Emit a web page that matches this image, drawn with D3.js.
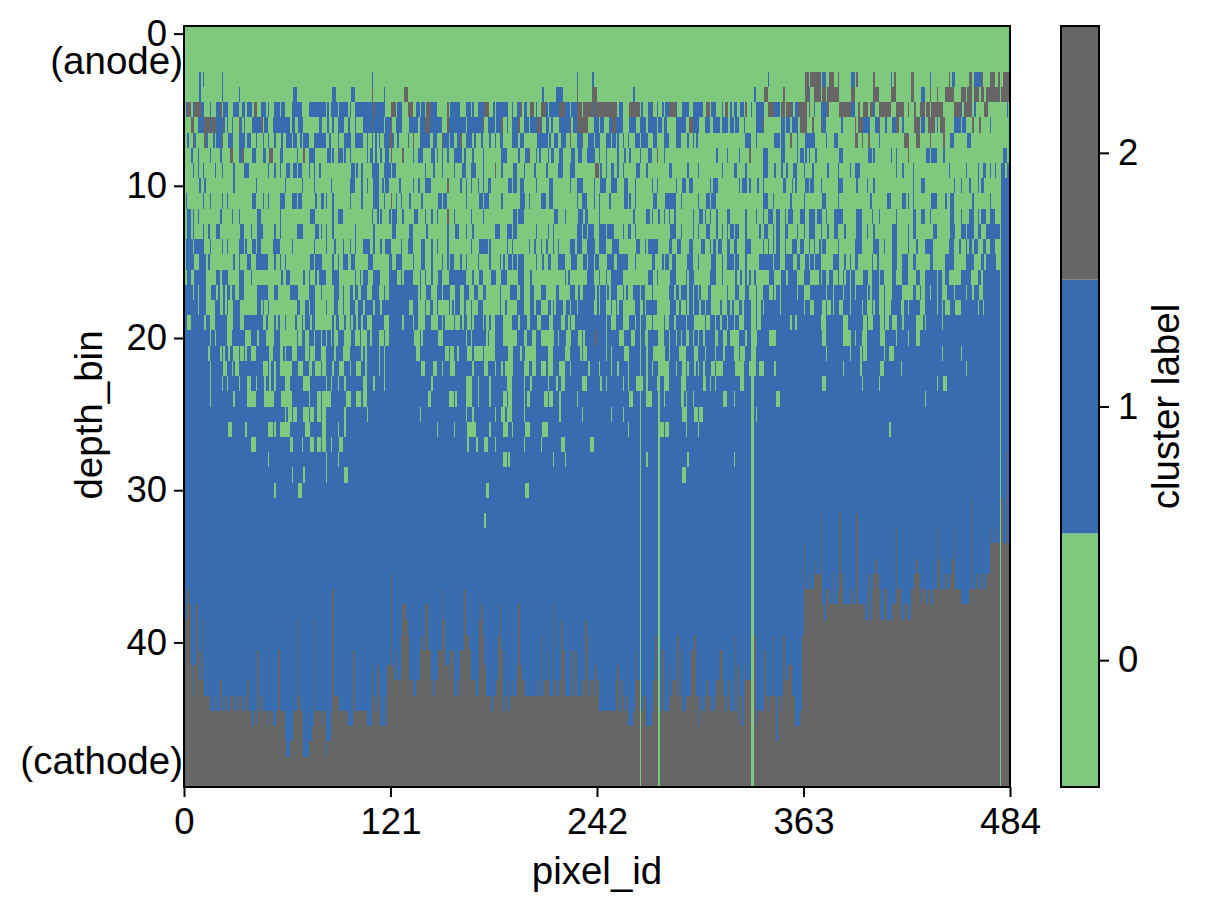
<!DOCTYPE html>
<html>
<head>
<meta charset="utf-8">
<style>
    html, body { margin: 0; padding: 0; background: #fff; }
    svg text { font-family: "Liberation Sans", Arial, sans-serif; fill: #000; }
</style>
<script src="https://cdn.jsdelivr.net/npm/d3@7/dist/d3.min.js"></script>
</head>
<body>
<div id="chart"></div>
<script>
(function () {
    'use strict';

    var clusterLabels = [0, 1, 2],
        xTicks = [0, 121, 242, 363, 484],
        yTicks = [0, 10, 20, 30, 40],
        endLabels = [[2, "(anode)"], [48, "(cathode)"]],
        numCols = 484,
        numRows = 50;

    //start,end column pairs
    var blueRuns = [];
    blueRuns[3] = [9,10,11,12,22,23,110,111,230,231,239,240,342,343,374,376,391,393,414,415,437,438,450,452,463,467];
    blueRuns[4] = [9,10,22,23,32,33,64,66,87,89,98,100,117,118,210,211,218,220,220,222,263,264,334,335,366,367,432,434];
    blueRuns[5] = [1,2,5,6,10,12,15,16,19,21,23,26,29,32,34,36,37,40,45,48,49,50,53,56,57,59,63,69,73,77,77,83,84,85,86,90,91,96,97,98,100,111,112,118,125,128,136,138,139,141,145,148,156,162,165,168,169,170,172,176,181,182,183,190,192,193,195,197,199,201,206,207,212,213,214,220,223,226,227,230,240,241,255,257,268,269,272,274,277,278,280,281,282,284,288,289,292,296,298,304,309,312,315,316,320,321,322,324,326,328,332,333,335,340,346,349,356,357,358,360,369,370,373,377,391,393,404,405,455,456,463,464,482,483];
    blueRuns[6] = [8,12,15,16,19,22,23,24,25,26,28,29,33,34,35,36,40,45,47,49,52,62,63,65,67,70,79,81,84,85,87,88,90,94,96,97,100,101,105,117,118,121,124,128,132,137,138,141,144,151,155,165,166,175,178,182,183,186,189,190,192,196,199,202,203,207,209,210,212,214,215,216,220,226,228,230,240,243,244,246,249,251,253,257,261,265,267,271,272,277,278,280,281,283,288,294,298,302,305,308,310,314,315,319,320,322,323,325,328,329,335,339,350,352,353,355,356,360,374,376,385,386,398,402,405,407,411,412,415,417,421,422,432,434,441,442,451,455,456,458,472,473];
    blueRuns[7] = [2,3,5,7,12,14,17,18,19,22,26,29,32,36,37,39,42,43,46,47,49,50,53,54,57,58,60,63,64,66,68,69,70,73,76,83,85,86,90,91,94,98,100,105,107,108,110,111,112,113,114,115,117,120,122,123,125,126,131,132,138,144,146,148,152,155,156,158,160,162,165,169,170,171,174,175,179,180,182,183,185,187,192,196,197,199,207,213,214,215,217,219,221,224,230,233,237,240,241,244,247,250,251,253,254,255,257,258,260,261,264,267,268,272,275,277,281,284,288,291,295,296,298,299,300,301,329,332,335,336,346,349,350,352,359,360,364,370,376,377,381,383,407,408,449,451,459,461];
    blueRuns[8] = [4,5,8,9,15,16,21,22,32,35,40,42,46,48,56,58,66,67,73,77,84,86,87,88,91,93,94,95,97,98,107,108,109,111,112,113,115,116,118,120,134,135,137,140,145,147,148,149,151,152,154,155,158,163,164,165,169,170,175,176,186,189,196,197,200,202,206,207,208,209,213,214,215,217,220,222,227,229,231,233,236,241,243,244,247,248,254,255,258,259,261,262,267,268,272,274,281,282,312,313,318,319,325,326,339,342,350,352,359,360,361,363,364,365,366,367,370,371,384,386,401,403,404,405,414,415,417,418,435,437,438,441,445,446,480,482];
    blueRuns[9] = [5,6,8,9,11,12,18,19,22,23,29,30,35,38,49,50,53,54,56,57,60,62,64,66,67,69,73,74,76,77,79,80,98,100,101,102,104,105,110,114,117,121,122,124,141,142,146,147,151,152,158,159,163,165,168,171,175,176,186,187,193,195,199,200,205,206,212,213,219,222,226,227,227,229,244,245,247,248,250,252,254,255,257,258,265,267,271,272,284,286,295,296,301,302,315,316,322,324,329,330,339,342,346,347,350,351,353,354,357,359,363,364,368,369,377,378,383,384,390,391,393,396,417,418,421,422,427,428,448,449,458,459,465,466,468,470,472,473,475,476,479,481,482,484];
    blueRuns[10] = [9,10,12,13,29,30,42,43,59,60,69,70,76,77,86,87,97,100,104,105,107,108,111,114,116,117,118,120,126,127,134,135,137,138,141,145,162,163,165,166,168,169,172,173,175,176,178,180,190,192,193,195,197,199,206,207,214,216,226,227,230,234,240,241,244,247,250,254,258,260,264,265,274,275,277,278,288,289,292,294,296,298,308,309,310,313,325,326,327,330,331,332,336,337,339,340,351,353,356,357,358,359,364,366,367,369,373,374,383,386,394,395,400,401,404,405,427,428,432,434,451,452,455,456,460,461,465,466,467,469,479,484];
    blueRuns[11] = [1,2,11,12,15,16,22,23,25,26,40,42,46,47,49,50,56,59,63,66,67,69,77,78,80,82,83,84,87,88,97,98,104,105,111,114,117,118,124,125,127,128,132,133,139,140,149,151,152,154,165,166,173,175,176,179,186,187,197,200,202,203,209,212,214,216,230,231,233,236,240,241,243,244,249,250,258,260,261,262,264,265,275,277,282,288,291,292,301,302,306,308,309,312,339,342,345,346,355,356,363,364,374,376,383,384,402,403,412,414,421,423,424,425,427,428,438,441,446,447,449,451,462,463,472,473,479,484];
    blueRuns[12] = [2,4,5,6,8,9,21,22,28,29,32,33,43,45,56,57,74,77,87,88,90,93,110,111,113,114,115,116,120,121,122,125,128,129,135,137,141,142,145,146,148,149,158,159,168,169,175,176,193,195,196,199,217,219,223,224,231,234,235,237,243,244,263,264,271,273,274,275,278,279,281,282,284,285,287,288,298,299,302,304,305,306,308,309,312,313,318,320,329,330,335,336,339,340,342,345,347,349,352,353,354,357,361,364,366,370,371,374,376,377,381,386,394,397,403,404,407,408,417,418,427,429,432,434,437,438,449,451,455,456,460,463,465,466,467,470,472,475,479,484];
    blueRuns[13] = [2,4,5,6,11,12,14,15,19,21,33,35,39,40,43,46,53,54,56,57,66,70,77,79,80,81,83,84,87,88,100,101,111,112,122,124,132,134,142,143,154,155,159,161,165,166,169,170,182,185,189,192,193,195,206,207,213,214,216,217,230,233,234,236,237,240,243,247,248,252,257,258,260,262,264,265,285,288,291,292,298,299,301,302,306,308,312,313,315,316,318,319,320,322,323,325,329,330,337,338,340,342,345,346,347,349,352,354,359,360,363,364,366,370,373,374,377,378,381,383,387,388,394,397,400,401,404,405,415,418,424,425,427,429,439,441,449,452,455,458,459,463,465,467,470,478,479,484];
    blueRuns[14] = [1,5,6,12,15,16,22,23,25,26,32,35,36,37,40,42,43,45,52,56,63,64,76,77,83,84,88,89,93,94,97,98,100,101,105,109,111,112,115,116,118,121,127,128,131,134,139,141,145,146,148,149,154,155,168,169,173,178,179,180,189,190,192,193,202,203,205,206,209,210,212,213,216,217,219,220,226,229,230,233,236,241,243,247,251,255,265,267,270,271,272,278,284,286,289,291,296,298,303,305,308,309,310,312,313,315,318,320,322,324,329,332,339,340,342,343,345,346,347,349,352,353,356,359,361,363,366,367,369,370,372,373,374,376,383,384,393,397,404,407,410,411,415,418,424,425,429,430,434,439,448,451,454,455,458,459,460,462,463,465,468,470,472,475,479,484];
    blueRuns[15] = [1,6,9,13,14,15,29,30,32,33,37,39,42,49,53,54,56,57,59,60,74,76,77,81,87,88,90,91,93,96,98,100,108,111,120,122,124,128,134,135,139,141,145,146,151,152,154,155,156,158,162,163,165,166,172,173,179,180,185,186,187,188,190,192,193,195,196,199,206,207,210,211,213,215,219,223,227,230,234,236,237,240,241,243,248,252,254,260,264,265,274,276,280,281,282,284,286,288,295,298,301,302,309,312,315,316,318,322,323,325,329,330,337,345,346,347,347,349,352,357,359,361,364,366,367,369,370,373,380,384,387,388,390,391,393,395,403,404,406,407,415,418,421,424,427,429,437,439,446,451,458,463,467,469,470,476,479,484];
    blueRuns[16] = [2,4,6,13,19,21,22,26,32,35,39,40,57,58,60,62,70,71,73,74,77,78,79,83,87,91,100,101,103,104,105,108,111,115,120,125,127,128,129,134,138,139,141,142,145,146,149,151,155,165,169,170,173,175,180,183,186,189,196,199,203,204,223,224,225,226,236,240,243,244,247,248,250,251,251,257,272,275,277,278,285,288,294,295,296,299,308,312,315,316,323,324,326,327,329,330,331,332,334,335,343,346,350,353,354,359,363,367,372,373,374,376,378,380,383,384,386,387,388,390,391,393,398,401,403,407,408,410,415,417,421,424,429,431,434,441,442,444,446,448,455,461,465,467,468,478,479,484];

    var grayRuns = [];
    grayRuns[3] = [364,366,367,373,378,381,383,384,394,395,404,405,416,417,426,428,448,449,460,462,467,468,472,475,477,478,480,484];
    grayRuns[4] = [110,111,129,131,230,231,239,242,340,342,351,352,364,366,369,373,374,376,377,384,391,393,404,407,414,417,426,428,437,438,441,442,446,451,455,458,459,462,463,466,467,469,470,478,479,484];
    grayRuns[5] = [2,4,6,10,21,22,41,43,111,112,121,122,122,124,131,134,142,145,154,155,176,179,197,198,203,205,209,212,220,223,230,233,234,240,241,254,261,267,274,275,284,288,306,308,317,319,329,330,342,346,350,352,353,356,360,365,366,367,377,378,384,391,395,396,398,401,402,404,407,414,417,422,424,425,428,429,431,434,435,437,438,445,451,455,457,462,469,471];
    grayRuns[6] = [4,5,5,6,12,15,16,19,22,23,32,33,45,46,110,111,121,122,141,144,154,155,175,176,186,187,196,197,207,209,226,227,230,237,251,253,296,298,339,340,361,365,368,369,373,374,393,394,395,398,407,408,417,419,428,431,436,440,443,446,462,463,466,467];
    grayRuns[7] = [5,6,12,13,22,23,120,122,134,135,151,152,162,163,226,227,233,234,355,356,393,395,397,398,401,402,422,425,429,431,437,438,445,446];
    grayRuns[8] = [27,29,34,35,50,52,70,71,90,91,121,122,128,129,202,203,277,278,331,332,424,425];
    grayRuns[9] = [182,183,241,243];
    grayRuns[10] = [154,155];
    grayRuns[11] = [121,122];
    grayRuns[12] = [154,155];
    grayRuns[20] = [241,242];

    var greenRuns = [];
    greenRuns[17] = [5,6,8,9,13,16,19,20,21,22,22,23,24,25,27,28,30,32,35,43,49,53,55,62,67,73,77,80,81,88,91,93,94,97,99,100,102,104,107,110,114,117,118,120,137,138,139,142,145,148,151,152,156,159,162,164,167,170,172,175,177,185,186,191,195,197,199,203,205,209,212,218,220,226,229,231,232,234,241,242,243,244,247,248,249,250,254,257,258,259,260,263,267,268,270,274,275,284,287,288,290,291,295,296,298,299,301,302,303,307,309,318,319,323,325,329,331,335,336,339,343,345,346,347,349,350,359,360,363,367,376,377,380,381,386,387,390,391,393,394,400,401,402,403,407,410,411,415,421,427,429,431,432,434,437,438,441,442,444,447,451,452,458,459,462,463,466,468];
    greenRuns[18] = [8,9,13,18,21,23,24,25,26,28,28,29,33,36,36,39,39,43,45,46,47,49,50,53,53,60,60,66,68,71,73,74,77,80,80,83,84,88,90,93,94,97,100,102,105,106,111,112,115,116,132,134,137,141,142,144,146,148,149,155,156,157,158,159,162,164,165,168,169,172,175,185,186,188,189,195,199,203,205,206,209,213,215,216,217,218,222,224,226,227,230,231,240,242,243,244,247,250,251,253,254,255,257,264,267,269,270,271,277,284,284,285,288,290,291,294,295,296,298,299,302,303,305,306,309,312,312,314,315,318,320,321,322,325,327,328,332,335,336,338,339,340,349,350,363,364,367,369,374,376,377,379,380,381,384,386,390,391,397,398,400,401,401,403,404,405,407,410,411,414,420,422,424,425,431,434,441,442,444,445,446,449,452,455,465,466,468,469];
    greenRuns[19] = [2,4,12,13,15,18,25,29,33,35,46,48,49,53,54,55,56,59,60,65,66,69,70,71,74,75,77,87,88,89,91,94,95,97,98,99,101,102,104,105,107,110,117,120,128,129,134,135,137,141,145,149,151,152,153,158,159,162,163,164,166,168,169,170,175,176,177,179,180,182,187,192,196,197,201,203,207,209,214,216,221,223,225,226,227,229,247,248,250,253,257,261,264,265,267,268,271,274,275,278,278,281,282,284,287,288,294,295,299,301,301,305,306,308,311,312,314,315,318,319,322,323,325,328,332,335,336,338,355,356,358,359,373,376,386,387,387,389,398,400,401,403,403,404,408,410,411,413,415,417,417,418,421,422,429,431,431,433,434,435,444,445];
    greenRuns[20] = [15,16,18,19,25,28,36,37,37,39,43,44,48,50,50,53,56,66,67,69,71,73,76,77,80,81,83,84,86,87,88,90,94,98,100,103,104,107,109,110,114,115,115,117,118,120,135,138,139,140,149,152,165,166,168,169,177,178,179,182,187,195,199,201,204,206,209,213,213,217,219,220,224,227,231,233,234,235,247,248,255,258,262,264,270,271,271,272,278,281,284,285,288,289,291,292,294,296,298,299,301,302,304,305,311,313,316,318,320,325,329,330,332,336,343,346,346,347,374,376,386,390,390,391,393,394,397,400,408,411,417,418,424,425,429,431];
    greenRuns[21] = [14,15,21,22,23,24,26,27,29,32,33,35,36,37,39,42,50,52,56,58,59,60,63,66,71,73,74,77,80,83,88,89,93,97,104,105,106,107,114,115,117,118,136,138,153,155,156,158,160,161,166,169,170,175,176,182,190,193,197,198,200,206,213,216,223,226,232,233,234,236,247,248,250,251,258,261,271,272,275,282,284,285,290,294,299,301,305,306,311,312,316,317,322,325,326,329,332,335,376,377,390,391,396,397,398,400,410,411,413,414,414,416,444,445,455,456];
    greenRuns[22] = [15,16,23,25,28,29,30,32,46,49,50,51,53,54,56,57,57,63,67,70,73,75,77,80,81,83,87,88,91,94,97,98,101,104,106,107,114,115,117,118,139,141,146,148,151,152,156,159,169,170,176,178,182,183,186,187,188,189,189,193,199,202,204,206,209,212,213,214,214,216,220,223,226,227,237,238,243,244,250,251,254,255,260,261,271,272,274,275,278,284,288,289,292,294,295,296,299,300,301,302,304,305,309,311,312,316,323,325,325,328,331,332,332,335,337,339,339,340,346,347,386,387,396,397,408,410,420,421,458,459];
    greenRuns[23] = [15,16,22,23,25,26,32,33,37,39,42,43,47,48,50,51,53,54,59,62,70,74,83,84,86,87,90,91,94,95,105,107,111,112,117,118,145,146,165,166,166,169,172,173,179,180,189,192,199,200,203,204,213,214,218,219,221,223,233,236,244,245,247,248,257,258,260,261,265,269,271,272,277,278,281,282,282,284,291,292,292,294,304,305,305,306,308,309,311,312,326,328,374,376,397,398,407,408,441,442,445,447];
    greenRuns[24] = [15,16,29,30,37,39,39,42,47,49,49,53,57,60,60,63,73,74,78,80,81,86,95,98,101,104,105,107,143,145,155,158,159,160,165,166,166,169,172,173,179,180,187,189,190,192,199,200,201,203,211,213,214,216,220,221,230,231,261,263,271,272,272,274,281,282,291,293,294,295,298,299,316,318,322,323,347,349,434,435];
    greenRuns[25] = [59,60,61,63,64,66,70,71,71,73,74,76,78,80,81,83,94,95,107,108,138,139,165,166,169,170,182,183,186,188,189,190,190,192,199,200,220,221,233,234,250,251,257,258,292,295,299,301,302,304,335,336];
    greenRuns[26] = [26,28,36,37,49,52,53,54,56,57,57,62,71,74,81,83,90,91,94,95,148,149,158,159,166,169,169,171,179,180,187,190,192,193,200,203,210,213,260,261,279,281,282,284,294,295,301,302,413,414];
    greenRuns[27] = [39,40,40,42,62,63,63,64,69,70,74,76,78,80,81,83,86,87,91,93,166,167,171,172,176,178,182,183,199,200,209,210,221,223,238,240];
    greenRuns[28] = [49,50,83,84,90,91,187,189,190,191,216,217,223,224,271,272,295,296,322,323];
    greenRuns[29] = [63,64,70,71,83,84,94,96,292,294];
    greenRuns[30] = [53,54,67,69,177,179,200,202];
    greenRuns[32] = [176,177];

    //full height green columns: column, first row
    var greenColumns = [[267, 20], [278, 23], [332, 17], [333, 17], [478, 9]];

    //first gray row per column, [from column, row]; holds until the next entry
    var cathodeSteps = [
        [0,39],[2,37],[3,38],[4,42],[5,44],[6,42],[7,38],[8,43],[9,41],[10,43],[11,39],[12,44],[13,44],[15,45],[18,44],[19,45],
        [21,43],[22,45],[24,44],[25,45],[27,44],[28,45],[29,44],[30,45],[31,44],[32,45],[33,44],[34,45],[35,44],[36,45],[37,43],[38,45],
        [40,46],[41,45],[42,46],[43,41],[44,45],[45,44],[46,45],[49,46],[50,45],[52,46],[54,45],[55,41],[56,45],[59,47],[60,48],[62,47],
        [64,45],[66,39],[67,44],[68,45],[70,48],[73,47],[75,46],[76,39],[77,45],[80,46],[81,45],[83,48],[84,47],[86,45],[87,37],[88,44],
        [91,45],[96,46],[99,41],[100,45],[107,46],[110,42],[111,44],[112,45],[113,42],[114,44],[115,46],[117,44],[118,46],[119,42],[120,42],
        [121,36],[122,42],[123,43],[124,41],[125,43],[127,40],[128,38],[130,39],[131,40],[132,43],[134,44],[136,43],[138,41],[139,40],[140,41],
        [141,38],[143,41],[145,43],[146,44],[147,43],[149,41],[151,37],[152,39],[153,42],[155,43],[156,41],[158,44],[160,43],[161,44],[162,41],
        [164,37],[165,40],[167,41],[168,43],[171,44],[173,39],[174,38],[175,40],[176,42],[177,44],[180,45],[181,44],[183,43],[184,40],[185,38],
        [186,41],[187,45],[188,44],[189,43],[190,45],[191,44],[192,43],[193,44],[195,42],[196,38],[197,42],[198,43],[200,44],[206,43],[207,44],
        [209,40],[210,44],[211,43],[213,41],[214,44],[216,38],[217,43],[218,44],[220,43],[221,39],[222,41],[223,44],[227,41],[228,44],[229,41],
        [230,44],[233,43],[235,39],[236,40],[237,44],[238,43],[240,44],[241,42],[242,43],[243,45],[253,43],[254,42],[255,45],[256,43],[257,44],
        [258,45],[259,44],[260,46],[263,45],[264,41],[265,43],[268,45],[269,44],[271,46],[274,45],[275,43],[276,40],[277,43],[279,45],[280,41],
        [281,45],[284,42],[285,44],[286,43],[288,44],[289,40],[290,44],[291,41],[292,45],[294,44],[297,41],[299,40],[300,44],[301,46],[302,44],
        [303,45],[305,44],[306,43],[307,44],[309,45],[311,44],[312,43],[314,41],[316,44],[317,45],[318,44],[319,43],[320,45],[322,40],[323,45],
        [324,42],[325,46],[326,44],[327,46],[328,42],[329,43],[334,40],[335,46],[336,45],[340,41],[341,44],[342,45],[343,44],[345,40],[346,44],
        [347,47],[348,44],[349,45],[350,44],[351,40],[352,43],[354,42],[356,44],[358,46],[361,45],[362,40],
        [363,34],[364,37],[366,36],[367,37],[369,35],[370,36],[373,32],[374,38],[375,39],[376,37],[378,38],[380,36],[381,38],[383,37],[384,32],
        [385,36],[386,38],[391,37],[392,38],[394,32],[395,38],[399,39],[401,36],[402,39],[403,37],[404,36],[405,35],[406,36],[407,37],[408,39],
        [410,37],[412,39],[415,38],[417,33],[418,37],[420,39],[422,38],[424,39],[426,37],[428,36],[429,35],[430,36],[431,38],[432,37],[435,38],
        [436,37],[438,38],[439,37],[441,33],[442,35],[443,37],[446,36],[447,37],[449,36],[450,35],[451,33],[452,37],[455,38],[460,37],[461,31],
        [462,37],[464,36],[465,37],[467,36],[468,37],[470,36],[472,33],[473,34],[475,33],[476,34],[479,31],[480,34],[482,28],[483,34]
    ];

    var colors = ["#7fc97f", "#386cb0", "#666666"];

    var width = 1207,
        height = 911,
        margin = { top: 26, right: 197, bottom: 124, left: 184 },
        plotW = width - margin.left - margin.right,
        plotH = height - margin.top - margin.bottom,
        TICK_FONT = 36.5,
        LABEL_FONT = 38.5;

    //fill the label grid from the run lists
    function paint(grid, runs, value) {
        runs.forEach(function (list, row) {
            for (var i = 0; i < list.length; i += 2) {
                for (var c = list[i]; c < list[i + 1] && c < numCols; c++) grid[row][c] = value;
            }
        });
    }

    var grid = d3.range(numRows).map(function (r) {
        return d3.range(numCols).map(function () { return r < 17 ? 0 : 1; });
    });
    paint(grid, blueRuns, 1);
    paint(grid, grayRuns, 2);
    paint(grid, greenRuns, 0);

    cathodeSteps.forEach(function (step, i) {
        var next = i + 1 < cathodeSteps.length ? cathodeSteps[i + 1][0] : numCols;
        for (var c = step[0]; c < next; c++) {
            for (var r = step[1]; r < numRows; r++) grid[r][c] = 2;
        }
    });
    greenColumns.forEach(function (col) {
        for (var r = col[1]; r < numRows; r++) grid[r][col[0]] = 0;
    });

    //merge neighbours of the same label so the svg stays small
    var cells = [];
    grid.forEach(function (line, r) {
        var start = 0;
        for (var c = 1; c <= numCols; c++) {
            if (c === numCols || line[c] !== line[start]) {
                cells.push({ row: r, start: start, end: c, label: line[start] });
                start = c;
            }
        }
    });

    var svg = d3.select("#chart").append("svg")
        .attr("width", width)
        .attr("height", height)
        .style("display", "block");

    var x = d3.scaleLinear().domain([0, numCols]).range([margin.left, margin.left + plotW]);
    var y = d3.scaleLinear().domain([-0.5, numRows - 0.5]).range([margin.top, margin.top + plotH]);

    svg.append("g").selectAll("rect")
        .data(cells)
        .enter()
        .append("rect")
        .attr("x", function (d) { return x(d.start); })
        .attr("y", function (d) { return y(d.row - 0.5); })
        .attr("width", function (d) { return x(d.end) - x(d.start); })
        .attr("height", function (d) { return y(d.row + 0.5) - y(d.row - 0.5); })
        .attr("fill", function (d) { return colors[d.label]; })
        .attr("shape-rendering", "crispEdges");

    function styleAxis(g) {
        g.selectAll("line").attr("stroke", "#000").attr("stroke-width", 2);
        g.selectAll("text").style("font-size", TICK_FONT + "px");
        g.select(".domain").remove();
    }

    svg.append("g")
        .attr("transform", "translate(0," + (margin.top + plotH) + ")")
        .call(d3.axisBottom(x).tickValues(xTicks).tickFormat(d3.format("d")).tickSize(10).tickPadding(11))
        .call(styleAxis);

    svg.append("g")
        .attr("transform", "translate(" + margin.left + ",0)")
        .call(d3.axisLeft(y).tickValues(yTicks).tickFormat(d3.format("d")).tickSize(10).tickPadding(7))
        .call(styleAxis);

    svg.selectAll(".end-label")
        .data(endLabels)
        .enter()
        .append("text")
        .attr("class", "end-label")
        .attr("x", margin.left - 1)
        .attr("y", function (d) { return y(d[0]); })
        .attr("dy", "0.25em")
        .attr("text-anchor", "end")
        .style("font-size", LABEL_FONT + "px")
        .text(function (d) { return d[1]; });

    svg.append("rect")
        .attr("x", margin.left)
        .attr("y", margin.top)
        .attr("width", plotW)
        .attr("height", plotH)
        .attr("fill", "none")
        .attr("stroke", "#000")
        .attr("stroke-width", 2);

    svg.append("text")
        .attr("x", margin.left + plotW / 2)
        .attr("y", 884)
        .attr("text-anchor", "middle")
        .style("font-size", LABEL_FONT + "px")
        .text("pixel_id");

    svg.append("text")
        .attr("transform", "translate(102,415) rotate(-90)")
        .attr("text-anchor", "middle")
        .style("font-size", LABEL_FONT + "px")
        .text("depth_bin");

    //colorbar
    var barLeft = 1061,
        barWidth = 38,
        cbar = d3.scaleLinear().domain([-0.5, 2.5]).range([margin.top + plotH, margin.top]);

    svg.append("g").selectAll("rect")
        .data(clusterLabels)
        .enter()
        .append("rect")
        .attr("x", barLeft)
        .attr("y", function (d) { return cbar(d + 0.5); })
        .attr("width", barWidth)
        .attr("height", function (d) { return cbar(d - 0.5) - cbar(d + 0.5); })
        .attr("fill", function (d) { return colors[d]; });

    svg.append("g")
        .attr("transform", "translate(" + (barLeft + barWidth) + ",0)")
        .call(d3.axisRight(cbar).tickValues(clusterLabels).tickFormat(d3.format("d")).tickSize(10).tickPadding(9))
        .call(styleAxis);

    svg.append("rect")
        .attr("x", barLeft)
        .attr("y", margin.top)
        .attr("width", barWidth)
        .attr("height", plotH)
        .attr("fill", "none")
        .attr("stroke", "#000")
        .attr("stroke-width", 2);

    svg.append("text")
        .attr("transform", "translate(1179," + cbar(1) + ") rotate(-90)")
        .attr("text-anchor", "middle")
        .style("font-size", LABEL_FONT + "px")
        .text("cluster label");
})();
</script>
</body>
</html>
